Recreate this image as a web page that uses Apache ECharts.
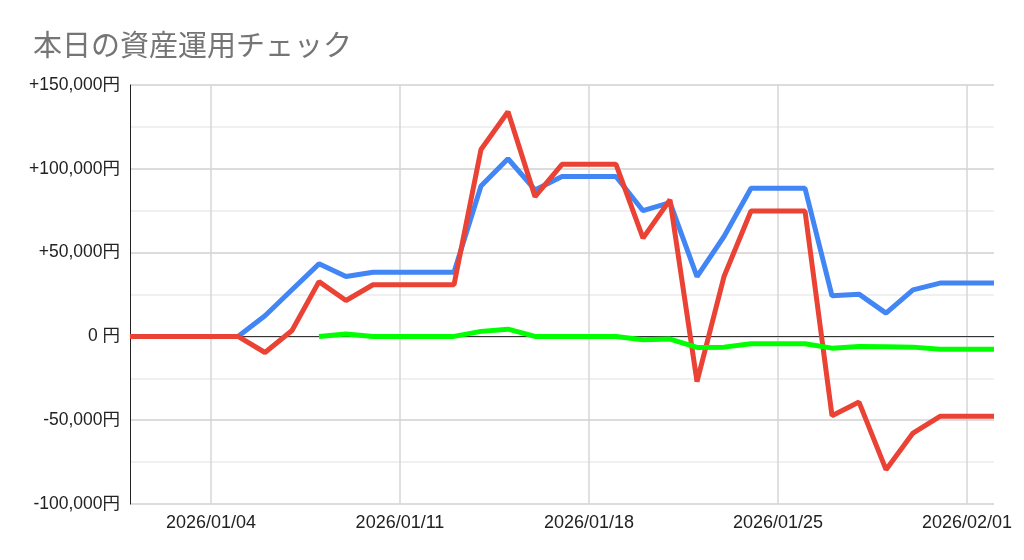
<!DOCTYPE html>
<html>
<head>
<meta charset="utf-8">
<script src="https://cdn.jsdelivr.net/npm/echarts@6/dist/echarts.min.js"></script>
<style>
html,body{margin:0;padding:0;background:#fff;}
#chart{width:1024px;height:560px;}
</style>
</head>
<body>
<div id="chart"></div>
<script>
// Dates 2026/01/01 .. 2026/02/02
const dates = [
  '2026/01/01','2026/01/02','2026/01/03','2026/01/04','2026/01/05','2026/01/06','2026/01/07',
  '2026/01/08','2026/01/09','2026/01/10','2026/01/11','2026/01/12','2026/01/13','2026/01/14',
  '2026/01/15','2026/01/16','2026/01/17','2026/01/18','2026/01/19','2026/01/20','2026/01/21',
  '2026/01/22','2026/01/23','2026/01/24','2026/01/25','2026/01/26','2026/01/27','2026/01/28',
  '2026/01/29','2026/01/30','2026/01/31','2026/02/01','2026/02/02'
];
const tickDates = ['2026/01/04','2026/01/11','2026/01/18','2026/01/25','2026/02/01'];

const blueValues = [
  0, 0, 0, 0, 0, 12300, 27800,
  43300, 35700, 38300, 38300, 38300, 38300, 89800,
  106000, 87400, 95400, 95400, 95400, 75000, 79800,
  35700, 59600, 88400, 88400, 88400, 24200, 25200,
  13900, 27800, 31800, 31800, 31800
];
const redValues = [
  0, 0, 0, 0, 0, -9600, 3500,
  32700, 21400, 30800, 30800, 30800, 30800, 111500,
  134000, 83400, 102700, 102700, 102700, 58600, 81500,
  -27000, 35700, 74800, 74800, 74800, -47300, -39200,
  -79500, -57700, -47700, -47700, -47700
];
const greenValues = [
  null, null, null, null, null, null, null,
  0, 1500, 0, 0, 0, 0, 3000,
  4300, 0, 0, 0, 0, -2000, -1600,
  -6600, -6400, -4400, -4400, -4400, -7000, -6000,
  -6200, -6400, -7600, -7600, -7600
];

const labelFont = '"Liberation Sans", Arial, "Noto Sans CJK JP", sans-serif';
const tickIdx = new Set(tickDates.map(d => dates.indexOf(d)));
const isTick = (i) => tickIdx.has(i);

function fmtYen(v) {
  if (v === 0) return '0 円';
  const s = Math.abs(v).toLocaleString('en-US');
  return (v > 0 ? '+' : '-') + s + '円';
}

const chart = echarts.init(document.getElementById('chart'), null, {renderer: 'canvas'});
chart.setOption({
  animation: false,
  backgroundColor: '#ffffff',
  title: {
    text: '本日の資産運用チェック',
    left: 28, top: 25,
    textStyle: {
      fontFamily: '"Noto Sans CJK JP", sans-serif',
      fontSize: 29, fontWeight: 'normal', color: '#757575'
    }
  },
  grid: {left: 130, right: 30, top: 85, bottom: 56, containLabel: false},
  xAxis: {
    type: 'category',
    data: dates,
    boundaryGap: false,
    axisLine: {show: true, lineStyle: {color: '#cccccc', width: 1}},
    axisTick: {show: false},
    axisLabel: {
      interval: (i) => isTick(i),
      formatter: (v) => v,
      color: '#222222', fontSize: 18, fontFamily: labelFont, margin: 10
    },
    splitLine: {show: true, interval: (i) => isTick(i), lineStyle: {color: '#d6d6d6', width: 1.5}}
  },
  yAxis: {
    type: 'value',
    min: -100000, max: 150000, interval: 50000,
    axisLine: {show: true, lineStyle: {color: '#222222', width: 1}},
    axisTick: {show: false},
    axisLabel: {
      formatter: fmtYen,
      color: '#222222', fontSize: 17.5, fontFamily: labelFont, margin: 10
    },
    splitLine: {show: true, lineStyle: {color: '#d0d0d0', width: 1.5}},
    minorTick: {show: false, splitNumber: 2},
    minorSplitLine: {show: true, lineStyle: {color: '#ebebeb', width: 1.5}}
  },
  series: [
    {
      name: 'blue', type: 'line', data: blueValues,
      showSymbol: false, symbol: 'none',
      lineStyle: {color: '#4285f4', width: 5}, itemStyle: {color: '#4285f4'},
      z: 3
    },
    {
      name: 'red', type: 'line', data: redValues,
      showSymbol: false, symbol: 'none',
      lineStyle: {color: '#ea4335', width: 5}, itemStyle: {color: '#ea4335'},
      z: 4
    },
    {
      name: 'green', type: 'line', data: greenValues,
      showSymbol: false, symbol: 'none', connectNulls: false,
      lineStyle: {color: '#00ff00', width: 5}, itemStyle: {color: '#00ff00'},
      z: 5,
      markLine: {
        silent: true, symbol: 'none', label: {show: false},
        lineStyle: {color: '#333333', width: 1.2, type: 'solid'},
        data: [{yAxis: 0}],
        z: 2
      }
    }
  ]
});
</script>
</body>
</html>
